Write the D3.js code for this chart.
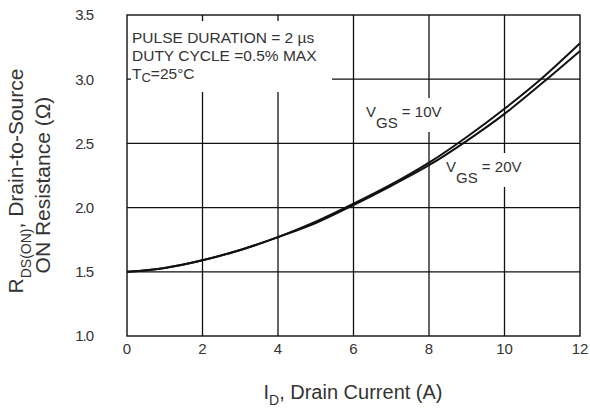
<!DOCTYPE html>
<html>
<head>
<meta charset="utf-8">
<script src="https://cdn.jsdelivr.net/npm/d3@7"></script>
<style>
  html, body { margin: 0; padding: 0; background: #fff; }
  svg { display: block; }
  text { font-family: "Liberation Sans", Arial, Helvetica, sans-serif; fill: #333; }
</style>
</head>
<body>
<svg id="chart" width="590" height="411"></svg>
<script>
// Drain current (A)
const drainCurrent = [0, 1, 2, 3, 4, 5, 6, 7, 8, 9, 10, 11, 12];
// On-resistance (ohm) at VGS = 10 V
const rdsVgs10 = [1.50, 1.53, 1.59, 1.67, 1.77, 1.89, 2.03, 2.18, 2.35, 2.55, 2.77, 3.01, 3.28];
// On-resistance (ohm) at VGS = 20 V
const rdsVgs20 = [1.50, 1.53, 1.59, 1.67, 1.77, 1.88, 2.02, 2.17, 2.33, 2.52, 2.73, 2.97, 3.22];

const xTicks = [0, 2, 4, 6, 8, 10, 12];
const yTicks = [1.0, 1.5, 2.0, 2.5, 3.0, 3.5];

const svg = d3.select("#chart");
const plotLeft = 127, plotRight = 580, plotTop = 15, plotBottom = 336;

const x = d3.scaleLinear().domain([0, 12]).range([plotLeft, plotRight]);
const y = d3.scaleLinear().domain([1.0, 3.5]).range([plotBottom, plotTop]);

// grid
const grid = svg.append("g").attr("stroke", "#111").attr("stroke-width", 1.3);
grid.selectAll("line.v").data(xTicks.slice(1, -1)).join("line")
  .attr("x1", d => x(d)).attr("x2", d => x(d))
  .attr("y1", plotTop).attr("y2", plotBottom);
grid.selectAll("line.h").data(yTicks.slice(1, -1)).join("line")
  .attr("x1", plotLeft).attr("x2", plotRight)
  .attr("y1", d => y(d)).attr("y2", d => y(d));

// white panels behind the annotation and curve labels
const panels = svg.append("g").attr("fill", "#fff");
panels.append("rect").attr("x", x(0) + 4).attr("y", y(3.5) + 6).attr("width", 201).attr("height", 71);
panels.append("rect").attr("x", 362).attr("y", 98).attr("width", 86).attr("height", 34);
panels.append("rect").attr("x", 443).attr("y", 153).attr("width", 88).attr("height", 34);

// frame
svg.append("rect").attr("x", plotLeft).attr("y", plotTop)
  .attr("width", plotRight - plotLeft).attr("height", plotBottom - plotTop)
  .attr("fill", "none").attr("stroke", "#111").attr("stroke-width", 1.4);

// curves
const line = d3.line().curve(d3.curveMonotoneX)
  .x((d, i) => x(drainCurrent[i])).y(d => y(d));
[rdsVgs10, rdsVgs20].forEach(s => {
  svg.append("path").datum(s).attr("d", line)
    .attr("fill", "none").attr("stroke", "#111").attr("stroke-width", 2);
});

// tick labels
svg.append("g").selectAll("text").data(xTicks).join("text")
  .attr("x", d => x(d)).attr("y", 354)
  .attr("text-anchor", "middle").attr("font-size", 15)
  .text(d => d);
svg.append("g").selectAll("text").data(yTicks).join("text")
  .attr("x", 93).attr("y", d => y(d)).attr("dy", "0.36em")
  .attr("text-anchor", "end").attr("font-size", 15).attr("letter-spacing", -1)
  .text(d => d.toFixed(1));

// x axis title
const xt = svg.append("text").attr("x", 353).attr("y", 399)
  .attr("text-anchor", "middle").attr("font-size", 20);
xt.append("tspan").text("I");
xt.append("tspan").attr("font-size", 14).attr("dy", 6).text("D");
xt.append("tspan").attr("dy", -6).text(", Drain Current (A)");

// y axis title
const yt1 = svg.append("text").attr("transform", "translate(23,181) rotate(-90)")
  .attr("text-anchor", "middle").attr("font-size", 21);
yt1.append("tspan").text("R");
yt1.append("tspan").attr("font-size", 14).attr("dy", 8).text("DS(ON)");
yt1.append("tspan").attr("dy", -8).text(", Drain-to-Source");
svg.append("text").attr("transform", "translate(50,185) rotate(-90)")
  .attr("text-anchor", "middle").attr("font-size", 21)
  .text("ON Resistance (\u03A9)");

// test conditions
const note = svg.append("g").attr("font-size", 15.5);
note.append("text").attr("x", 132).attr("y", 43).text("PULSE DURATION = 2 \u00B5s");
note.append("text").attr("x", 132).attr("y", 61).text("DUTY CYCLE =0.5% MAX");
const tc = note.append("text").attr("x", 132).attr("y", 79);
tc.append("tspan").text("T");
tc.append("tspan").attr("font-size", 13).attr("dy", 3).text("C");
tc.append("tspan").attr("dy", -3).text("=25\u00B0C");

// curve labels
function vgsLabel(px, py, value) {
  const t = svg.append("text").attr("x", px).attr("y", py).attr("font-size", 15);
  t.append("tspan").text("V");
  t.append("tspan").attr("dy", 11).text("GS");
  t.append("tspan").attr("dy", -11).text(" = " + value);
}
vgsLabel(366, 117, "10V");
vgsLabel(446, 172, "20V");
</script>
</body>
</html>
